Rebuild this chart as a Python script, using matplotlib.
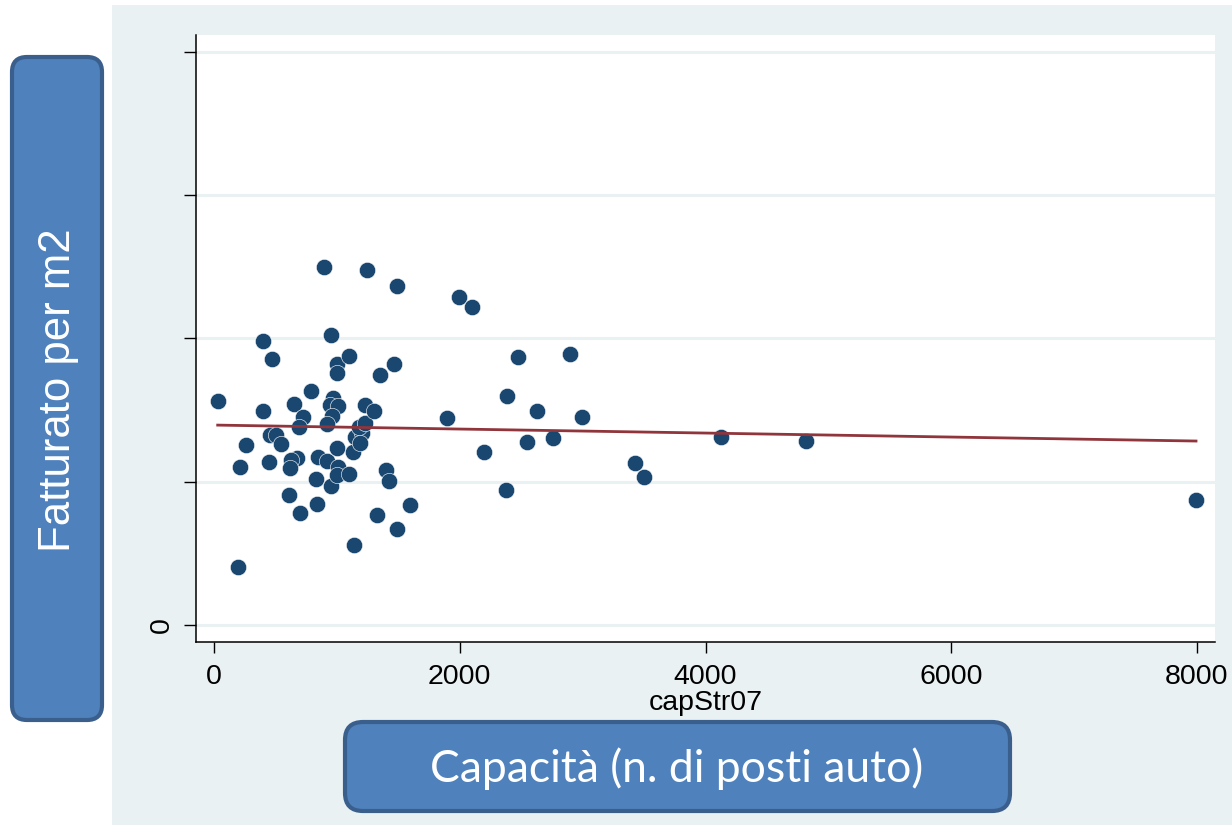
import matplotlib
matplotlib.use("Agg")
import matplotlib.pyplot as plt
import numpy as np
from matplotlib.patches import Rectangle, FancyBboxPatch

# capStr07 (posti auto) vs fatturato per m2 (scala y senza etichette, solo 0)
cap = [30, 401, 472, 401, 258, 212, 198, 450, 456, 505,
       543, 651, 727, 694, 789, 678, 627, 619, 613, 700,
       828, 836, 849, 895, 952, 971, 944, 1012, 958, 917,
       917, 952, 999, 999, 1003, 1012, 999, 1099, 1101, 1129,
       1148, 1202, 1180, 1229, 1188, 1229, 1305, 1142, 1245, 1351,
       1465, 1489, 1397, 1427, 1324, 1487, 1595, 1896, 1994, 2102,
       2197, 2379, 2387, 2472, 2545, 2631, 2756, 2897, 2995, 3429,
       3497, 4126, 4818, 7992]
fatt = [7.82, 9.92, 9.28, 7.48, 6.28, 5.52, 2.03, 5.69, 6.63, 6.63,
        6.31, 7.71, 7.25, 6.90, 8.18, 5.84, 5.76, 5.49, 4.54, 3.90,
        5.08, 4.23, 5.87, 12.49, 10.12, 7.91, 7.68, 7.64, 7.29, 7.01,
        5.72, 4.85, 9.11, 8.78, 6.19, 5.50, 5.23, 5.26, 9.40, 6.03,
        6.57, 6.69, 6.92, 7.06, 6.34, 7.68, 7.48, 2.78, 12.39, 8.71,
        9.10, 11.83, 5.41, 5.03, 3.84, 3.36, 4.19, 7.22, 11.44, 11.10,
        6.05, 4.72, 8.00, 9.36, 6.37, 7.46, 6.54, 9.47, 7.25, 5.64,
        5.17, 6.56, 6.42, 4.36]

x_ticks = [0, 2000, 4000, 6000, 8000]
y_ticks = [0, 5, 10, 15, 20]
y_ticklabels = ["0", "", "", "", ""]

W, H = 1232, 825
BG = "#e9f1f3"
NAVY = "#1a476f"
MAROON = "#8f353b"
BOX = "#4f81bd"
BOX_EDGE = "#3b5f8c"

fig = plt.figure(figsize=(W / 100, H / 100), dpi=100, facecolor="white")
px = fig.dpi_scale_trans  # inches; 1 inch = 100 px


def P(x, y):
    # pixel (top-left origin) -> inches
    return x / 100, (H - y) / 100


# light panel behind the graph
fig.patches.append(Rectangle(P(112, 825), 11.2, 8.2, transform=px,
                             facecolor=BG, edgecolor="none", zorder=-1))

ax = fig.add_axes([196 / W, (H - 642) / H, (1215 - 196) / W, (642 - 35) / H])
ax.set_zorder(1)
ax.set_facecolor("white")

ax.scatter(cap, fatt, s=138, color=NAVY, edgecolors="white", linewidths=0.4, zorder=3)

coef = np.polyfit(cap, fatt, 1)
xf = np.array([min(cap), max(cap)])
ax.plot(xf, np.polyval(coef, xf), color=MAROON, lw=2.0, zorder=4)

ax.set_xlim(-146.5, 8146.5)
ax.set_ylim(-0.593, 20.59)
ax.set_xticks(x_ticks)
ax.set_xticklabels([str(v) for v in x_ticks])
ax.set_yticks(y_ticks)
ax.set_yticklabels(y_ticklabels, rotation=90, va="center")
ax.yaxis.grid(True, color=BG, lw=2.2, zorder=0)
ax.set_axisbelow(True)

for s in ["top", "right"]:
    ax.spines[s].set_visible(False)
for s in ["left", "bottom"]:
    ax.spines[s].set_linewidth(1.1)
    ax.spines[s].set_color("black")

lab_font = dict(family=["Liberation Sans", "DejaVu Sans"], size=20.5)
ax.tick_params(axis="x", length=8, width=1, pad=8, labelsize=20.5)
ax.tick_params(axis="y", length=8.5, width=1, pad=7, labelsize=20.5)
for t in ax.get_xticklabels() + ax.get_yticklabels():
    t.set_fontfamily(["Liberation Sans", "DejaVu Sans"])
ax.set_xlabel("capStr07", fontdict=lab_font, labelpad=0)

# overlay boxes
left_box = FancyBboxPatch(P(12, 720), 0.90, 6.63, transform=px,
                          boxstyle="round,pad=0,rounding_size=0.15",
                          facecolor=BOX, edgecolor=BOX_EDGE, lw=3, zorder=5)
fig.patches.append(left_box)
fig.text(*P(59, 390), "Fatturato per m2", transform=px, rotation=90,
         ha="center", va="center", color="white", fontsize=31.5,
         family=["Liberation Sans", "DejaVu Sans"], zorder=6)

bottom_box = FancyBboxPatch(P(345, 811), 6.65, 0.89, transform=px,
                            boxstyle="round,pad=0,rounding_size=0.18",
                            facecolor=BOX, edgecolor=BOX_EDGE, lw=3, zorder=5)
fig.patches.append(bottom_box)
fig.text(*P(677, 769), "Capacità (n. di posti auto)", transform=px,
         ha="center", va="center", color="white", fontsize=32,
         family=["Lato", "DejaVu Sans"], zorder=6)

fig.savefig("out.png", dpi=100, facecolor="white")
